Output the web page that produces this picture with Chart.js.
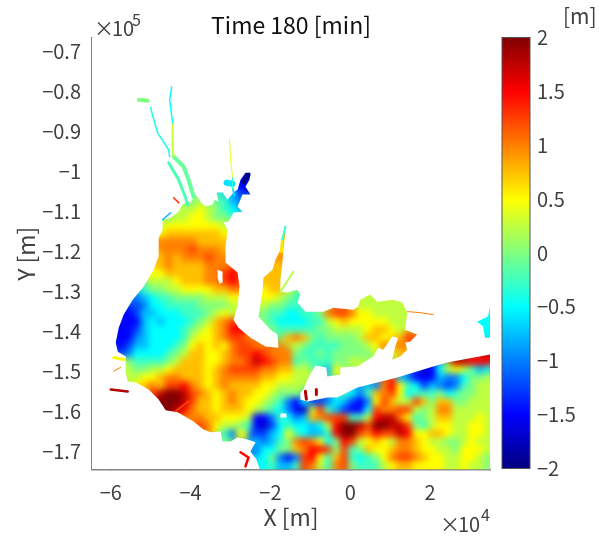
<!DOCTYPE html>
<html>
<head>
<meta charset="utf-8">
<title>Time 180 [min]</title>
<script src="https://cdn.jsdelivr.net/npm/chart.js@4"></script>
<style>
    html, body { margin: 0; padding: 0; background: #fff; }
    #wrap { position: relative; width: 599px; height: 536px; }
    canvas { position: absolute; left: 0; top: 0; }
</style>
</head>
<body>
<div id="wrap">
    <canvas id="map" width="599" height="536"></canvas>
    <canvas id="bar" width="599" height="536"></canvas>
</div>
<script>
// tick values and labels, X in 1e4 m, Y in 1e5 m
const xTicks = [-6, -4, -2, 0, 2];
const xTickLabels = ['−6', '−4', '−2', '0', '2'];
const yTicks = [-0.7, -0.8, -0.9, -1, -1.1, -1.2, -1.3, -1.4, -1.5, -1.6, -1.7];
const yTickLabels = ['−0.7', '−0.8', '−0.9', '−1', '−1.1', '−1.2', '−1.3', '−1.4', '−1.5', '−1.6', '−1.7'];
const barTicks = [-2, -1.5, -1, -0.5, 0, 0.5, 1, 1.5, 2];
const barTickLabels = ['−2', '−1.5', '−1', '−0.5', '0', '0.5', '1', '1.5', '2'];

// water level in m for each letter used in the rows below
const levelCodes = 'abcdefghijklmnopq';
const levelValues = [-2, -1.75, -1.5, -1.25, -1, -0.75, -0.5, -0.25, 0, 0.25, 0.5, 0.75, 1, 1.25, 1.5, 1.75, 2];

// cell grid, one row every 0.02e5 m going south
const gridX0 = -6.35;
const gridXStep = 0.2;
const gridY0 = -0.676;
const gridYStep = 0.02;
const rowFirstCell = {
    17: 19, 18: 16, 19: 17, 20: 11, 21: 10, 22: 9, 23: 8, 24: 8, 25: 8, 26: 9, 27: 8, 28: 8, 29: 7, 30: 7, 31: 6,
    32: 5, 33: 5, 34: 4, 35: 4, 36: 3, 37: 3, 38: 3, 39: 3, 40: 3, 41: 4, 42: 4, 43: 3, 44: 7, 45: 8, 46: 9, 47: 11,
    48: 13, 49: 16, 50: 16, 51: 20, 52: 21, 53: 21
};
const rowCells = {
    17: 'b',
    18: 'g.cb',
    19: 'fd',
    20: 'ii.i.hfe',
    21: 'jjjkjihg',
    22: 'ijjkkjii',
    23: 'jkkkkkkkj',
    24: 'klllllllk',
    25: 'mmmmmllll......l',
    26: 'mmmnmmml......l',
    27: 'lmlmmmnmm.....lm',
    28: 'lmllllmmm.....ll',
    29: 'kklllllm.no....ll',
    30: 'jjjklllmmnon..llli',
    31: 'hiijjkkkkllmm..kllj',
    32: 'efghhiiiijjjkk..kkjih........j',
    33: 'degghhhhiiiijj..jiihhh......jjjjjj..........g',
    34: 'cdffggghhhijkj...ihhgghhimnnmkkjjjjj.........g',
    35: 'ccfgfggghijlmn...ihgggghhjklkkkkkjjj........gg',
    36: 'ccdfgggghijklmoo...ihhhhhiijjjjkllkj..........g',
    37: 'ccefgggghjkklmnnm....lmlihiiiijllk.ln',
    38: 'cdffggghiklklkmnnmm...jihhhhiiijkm.m',
    39: 'degggghijllkklmnnonmmmihhihiiiiij.jl..........p',
    40: 'kihhhhijlllkklmmnponmmhihhhiijj...........ppooo',
    41: 'jiijjkllllklmnnnnmmlljj..fk.........dbcgjkjhfg',
    42: 'jjkklmmlllklmmmmmllkkjj..........nfecccfeegiij',
    43: 'njklmlnnomlklmllllkkjjj........femokhgdfedehijj',
    44: 'npqqpnmlklmllkkjiii.....hgehlmnkghhhighiijj',
    45: 'qqqpnllklmlkkjihecgddegfdceknljjnlilliijjj',
    46: 'qpomllklllkjihgecbjnhfdccgnmmnnjijmmjjjjj',
    47: 'mmmllkkkjccehgeflmnnnhhjoppmkhijlljjjkj',
    48: 'nmkjjihcbdghggfgjoqqpnqqppnihjkkjjkkj',
    49: 'hek.ddfgkhgffhoqqnmonnpokkllkjjkkj',
    50: 'i...fefhimnmkgionjklkjmmlkjjiijkjj',
    51: 'eggiilmooninhilkklmmlkkjjikkkj',
    52: 'giecenokhlnhghikmnnmlkkjjkkji',
    53: 'ghffhnmjhmnihhhjkllkkkkjjkjji'
};

// shoreline of the wet area: main body and bays, then the small patch on the right edge
const shoreXs = [
    [-4.8, -4.7, -4.7, -4.5, -4.3, -4.2, -4.075, -4, -3.875, -3.75, -3.625, -3.45, -3.4, -3.3, -3.35, -3.2, -3.075, -2.925, -2.825, -2.75,
     -2.625, -2.5, -2.525, -2.625, -2.5, -2.7, -2.825, -2.7, -2.925, -3.05, -3.175, -3.075, -3.125, -3.125, -2.825, -2.775, -2.825, -2.925, -2.8, -2.5,
     -2.125, -1.8, -1.825, -2, -2.3, -2.2, -2.175, -1.95, -1.875, -1.75, -1.7, -1.675, -1.625, -1.675, -1.7, -1.75, -1.75, -1.575, -1.325, -1.25,
     -1.325, -1.125, -0.675, -0.425, 0.075, 0.2, 0.25, 0.5, 0.675, 1.075, 1.3, 1.425, 1.375, 1.675, 1.5, 1.375, 1.425, 1.25, 1.05, 1.125,
     1.2, 1.05, 0.825, 0.7, 0.575, 0.175, -0.25, -0.25, -0.575, -0.6, -0.875, -1.05, -1.175, -1.25, -1.25, -1.075, -0.575, -0.325, 0.175, 1.175,
     2.075, 2.425, 3.5, 3.6, 3.6, -2.25, -2.35, -2.5, -2.375, -2.575, -2.825, -3, -3.2, -3.25, -3.5, -3.675, -3.925, -4.325, -4.625, -4.8,
     -5.05, -5.375, -5.575, -5.625, -5.625, -5.825, -5.875, -5.8, -5.675, -5.45, -5.175, -4.925, -4.8],
    [3.5, 3.45, 3.175, 3.325, 3.375, 3.6, 3.6]
];
const shoreYs = [
    [-1.166, -1.146, -1.121, -1.116, -1.101, -1.083, -1.076, -1.078, -1.058, -1.076, -1.088, -1.083, -1.071, -1.076, -1.053, -1.053, -1.071, -1.053, -1.046, -1.021,
     -1.003, -1.003, -1.021, -1.038, -1.058, -1.058, -1.088, -1.101, -1.103, -1.126, -1.128, -1.146, -1.188, -1.228, -1.253, -1.288, -1.338, -1.371, -1.391, -1.416,
     -1.438, -1.441, -1.408, -1.396, -1.363, -1.303, -1.266, -1.246, -1.221, -1.196, -1.178, -1.153, -1.153, -1.196, -1.228, -1.271, -1.301, -1.303, -1.296, -1.308,
     -1.328, -1.351, -1.351, -1.341, -1.346, -1.338, -1.321, -1.308, -1.326, -1.321, -1.328, -1.353, -1.396, -1.408, -1.426, -1.428, -1.446, -1.463, -1.471, -1.438,
     -1.416, -1.413, -1.446, -1.441, -1.463, -1.488, -1.491, -1.508, -1.513, -1.491, -1.486, -1.516, -1.546, -1.554, -1.571, -1.576, -1.566, -1.566, -1.541, -1.516,
     -1.488, -1.478, -1.458, -1.458, -1.751, -1.751, -1.721, -1.701, -1.678, -1.671, -1.666, -1.676, -1.676, -1.651, -1.653, -1.646, -1.626, -1.603, -1.598, -1.571,
     -1.546, -1.528, -1.526, -1.503, -1.463, -1.451, -1.428, -1.391, -1.358, -1.321, -1.288, -1.246, -1.213],
    [-1.338, -1.363, -1.376, -1.388, -1.416, -1.416, -1.338]
];
// small dry spots inside the wet area
const holeXs = [[-3.325, -3.2, -3.2, -3.275, -3.325], [-1.75, -1.6, -1.6, -1.75]];
const holeYs = [[-1.246, -1.251, -1.278, -1.281, -1.266], [-1.606, -1.606, -1.616, -1.616]];

// rivers and thin shore pieces, too narrow for the grid
const lineLevels = [-0.4, -0.2, -0.5, 0.3, -0.1, 0, 0.4, -0.3, -2, -0.6, -0.6, -0.3, 0.6, 0.2, -0.8, 1.3, 1.8, 0.5, 1, 1.25, 1.5, 1.8, 1.8, 1];
const lineWidths = [1.5, 3, 1.5, 2, 4, 4, 1, 1, 4, 6, 2, 2, 3, 2, 1.5, 1.5, 2.5, 3, 1, 2, 2.5, 3, 3, 1];
const lineXs = [
    [-5, -4.95, -4.825, -4.55, -4.525], [-4.55, -4.3, -4.125, -4.075], [-4.475, -4.525, -4.45], [-4.45, -4.45, -4.425],
    [-4.425, -4.175, -4.05, -3.925], [-5.3, -5.075], [-3.025, -3, -2.95], [-2.95, -2.95], [-2.55, -2.675],
    [-3.1, -2.95], [-2.95, -2.9], [-1.625, -1.7], [-1.7, -1.725], [-1.425, -1.75], [-4.7, -4.5], [-4.425, -4.3], [-6, -5.575],
    [-5.925, -5.675], [-5.925, -5.75], [-4.375, -4.05], [-2.75, -2.55, -2.625], [-1.125, -1.1], [-0.85, -0.85], [1.425, 1.75, 2.075]
];
const lineYs = [
    [-0.8408, -0.8608, -0.9033, -0.9458, -0.9633], [-0.9783, -1.0208, -1.0658, -1.083], [-0.788, -0.8208, -0.878], [-0.878, -0.938, -0.963],
    [-0.963, -0.988, -1.021, -1.063], [-0.8208, -0.8233], [-0.9203, -0.97, -1.0133], [-1.0133, -1.0458], [-1.0083, -1.026],
    [-1.0283, -1.0308], [-1.04, -1.06], [-1.138, -1.17], [-1.17, -1.2], [-1.251, -1.301], [-1.1208, -1.1033], [-1.0658, -1.078], [-1.5458, -1.5508],
    [-1.4658, -1.4708], [-1.5, -1.49], [-1.6, -1.575], [-1.703, -1.7158, -1.7383], [-1.55, -1.57], [-1.5458, -1.5583], [-1.3508, -1.3533, -1.3583]
];

// jet colormap stops
const jetStops = [0, 0.125, 0.375, 0.625, 0.875, 1];
const jetRgb = [[0, 0, 128], [0, 0, 255], [0, 255, 255], [255, 255, 0], [255, 0, 0], [128, 0, 0]];

function jetColor(v) {
    const t = Math.min(1, Math.max(0, (v + 2) / 4));
    let i = 0;
    while (i < jetStops.length - 2 && t > jetStops[i + 1]) i++;
    const f = (t - jetStops[i]) / (jetStops[i + 1] - jetStops[i]);
    const c = jetRgb[i].map((a, k) => Math.round(a + (jetRgb[i + 1][k] - a) * f));
    return `rgb(${c[0]}, ${c[1]}, ${c[2]})`;
}

const cellPoints = [];
const cellColors = [];
Object.keys(rowCells).forEach(r => {
    const row = rowCells[r];
    for (let i = 0; i < row.length; i++) {
        const k = levelCodes.indexOf(row[i]);
        if (k < 0) continue;
        cellPoints.push({ x: gridX0 + (rowFirstCell[r] + i) * gridXStep, y: gridY0 - r * gridYStep });
        cellColors.push(jetColor(levelValues[k]));
    }
});

const datasets = [{
    data: cellPoints,
    order: 1,
    pointStyle: 'rect',
    pointRadius: 5.8,
    pointBorderWidth: 0,
    pointBackgroundColor: cellColors
}];
lineLevels.forEach((v, i) => {
    datasets.push({
        data: lineXs[i].map((x, k) => ({ x: x, y: lineYs[i][k] })),
        order: 0,
        showLine: true,
        pointRadius: 0,
        borderWidth: lineWidths[i],
        borderColor: jetColor(v),
        borderCapStyle: 'round'
    });
});

const fontName = '"Noto Sans CJK JP", "Noto Sans", sans-serif';
const textColor = '#404040';
const axisColor = '#858585';

function tracePolygons(ctx, chart, xs, ys) {
    ctx.beginPath();
    xs.forEach((poly, p) => {
        poly.forEach((x, i) => {
            const px = chart.scales.x.getPixelForValue(x);
            const py = chart.scales.y.getPixelForValue(ys[p][i]);
            if (i === 0) ctx.moveTo(px, py); else ctx.lineTo(px, py);
        });
        ctx.closePath();
    });
}

// smooth the blocky cells, spread them a little, then cut along the shoreline
const smoothCells = {
    id: 'smoothCells',
    afterDatasetDraw(chart, args) {
        if (args.index !== 0) return;
        const a = chart.chartArea;
        const x = Math.ceil(a.left), y = Math.floor(a.top);
        const w = Math.floor(a.right) - x, h = Math.floor(a.bottom) - y;
        const copy = document.createElement('canvas');
        copy.width = w;
        copy.height = h;
        copy.getContext('2d').drawImage(chart.canvas, x, y, w, h, 0, 0, w, h);
        const ctx = chart.ctx;
        ctx.save();
        ctx.setTransform(1, 0, 0, 1, 0, 0);
        ctx.clearRect(x, y, w, h);
        ctx.beginPath();
        ctx.rect(x, y, w, h);
        ctx.clip();
        ['blur(12px)', 'blur(6px)', 'blur(3px)'].forEach(f => {
            ctx.filter = f;
            ctx.drawImage(copy, x, y);
        });
        ctx.filter = 'none';
        const img = ctx.getImageData(x, y, w, h);
        for (let i = 3; i < img.data.length; i += 4) {
            img.data[i] = Math.min(255, img.data[i] * 12);
        }
        ctx.putImageData(img, x, y);
        ctx.globalCompositeOperation = 'destination-in';
        ctx.filter = 'blur(0.6px)';
        tracePolygons(ctx, chart, shoreXs, shoreYs);
        ctx.fill();
        ctx.filter = 'none';
        ctx.globalCompositeOperation = 'destination-out';
        tracePolygons(ctx, chart, holeXs, holeYs);
        ctx.fill();
        ctx.restore();
    }
};

// the x10^n factors of the axes
const axisFactors = {
    id: 'axisFactors',
    afterDraw(chart) {
        const ctx = chart.ctx;
        ctx.save();
        ctx.fillStyle = textColor;
        ctx.textBaseline = 'alphabetic';
        ctx.textAlign = 'left';
        ctx.font = '20px ' + fontName;
        ctx.fillText('×', 94, 36);
        ctx.fillText('10', 112, 36);
        ctx.fillText('×', 440, 532);
        ctx.fillText('10', 458, 532);
        ctx.font = '16px ' + fontName;
        ctx.fillText('5', 132, 26);
        ctx.fillText('4', 481, 521);
        ctx.restore();
    }
};

new Chart(document.getElementById('map'), {
    type: 'scatter',
    data: { datasets: datasets },
    plugins: [smoothCells, axisFactors],
    options: {
        responsive: false,
        animation: false,
        events: [],
        layout: { padding: { right: 109 } },
        plugins: {
            legend: { display: false },
            tooltip: { enabled: false },
            title: {
                display: true,
                text: 'Time 180 [min]',
                fullSize: false,
                color: '#111',
                font: { family: fontName, size: 23, weight: 'normal', lineHeight: 1 },
                padding: { top: 14, bottom: 1 }
            }
        },
        scales: {
            x: {
                type: 'linear',
                min: -6.47,
                max: 3.5,
                z: 1,
                afterFit: s => { s.height = 66.5; },
                afterBuildTicks: s => { s.ticks = xTicks.map(v => ({ value: v })); },
                border: { color: axisColor, width: 1.5 },
                grid: { drawOnChartArea: false, tickLength: -4, tickColor: axisColor },
                ticks: {
                    color: textColor, padding: 15, maxRotation: 0, autoSkip: false,
                    font: { family: fontName, size: 20 },
                    callback: (v, i) => xTickLabels[i]
                },
                title: {
                    display: true, text: 'X [m]', color: textColor,
                    font: { family: fontName, size: 23 },
                    padding: { top: 0, bottom: 5 }
                }
            },
            y: {
                type: 'linear',
                min: -1.746,
                max: -0.666,
                z: 1,
                afterFit: s => { s.width = 92; },
                afterBuildTicks: s => { s.ticks = yTicks.map(v => ({ value: v })); },
                border: { color: axisColor, width: 1.5 },
                grid: { drawOnChartArea: false, tickLength: -4, tickColor: axisColor },
                ticks: {
                    color: textColor, padding: 15, autoSkip: false,
                    font: { family: fontName, size: 20 },
                    callback: (v, i) => yTickLabels[i]
                },
                title: {
                    display: true, text: 'Y [m]', color: textColor,
                    font: { family: fontName, size: 23 },
                    padding: { top: 12, bottom: 0 }
                }
            }
        }
    }
});

// colorbar, one floating bar from -2 to 2 with the colormap as its fill
const barOutline = {
    id: 'barOutline',
    afterDraw(chart) {
        const a = chart.chartArea, ctx = chart.ctx;
        ctx.save();
        ctx.strokeStyle = '#555';
        ctx.lineWidth = 1;
        ctx.strokeRect(a.left, a.top, a.right - a.left, a.bottom - a.top);
        ctx.fillStyle = textColor;
        ctx.font = '21px ' + fontName;
        ctx.textAlign = 'left';
        ctx.fillText('[m]', 563, 24);
        ctx.restore();
    }
};

new Chart(document.getElementById('bar'), {
    type: 'bar',
    data: {
        labels: [''],
        datasets: [{
            data: [[-2, 2]],
            barPercentage: 1,
            categoryPercentage: 1,
            backgroundColor: c => {
                const a = c.chart.chartArea;
                if (!a) return '#888';
                const g = c.chart.ctx.createLinearGradient(0, a.bottom, 0, a.top);
                jetStops.forEach((t, i) => g.addColorStop(t, `rgb(${jetRgb[i].join(',')})`));
                return g;
            }
        }]
    },
    plugins: [barOutline],
    options: {
        responsive: false,
        animation: false,
        events: [],
        layout: { padding: { left: 502, right: 0, top: 37.5, bottom: 67.5 } },
        plugins: { legend: { display: false }, tooltip: { enabled: false } },
        scales: {
            x: { display: false },
            y: {
                position: 'right',
                min: -2,
                max: 2,
                z: 1,
                afterFit: s => { s.width = 69; },
                afterBuildTicks: s => { s.ticks = barTicks.map(v => ({ value: v })); },
                border: { display: false },
                grid: { drawOnChartArea: false, tickLength: -3, tickColor: '#555' },
                ticks: {
                    color: textColor, padding: 10, autoSkip: false,
                    font: { family: fontName, size: 20 },
                    callback: (v, i) => barTickLabels[i]
                }
            }
        }
    }
});
</script>
</body>
</html>
